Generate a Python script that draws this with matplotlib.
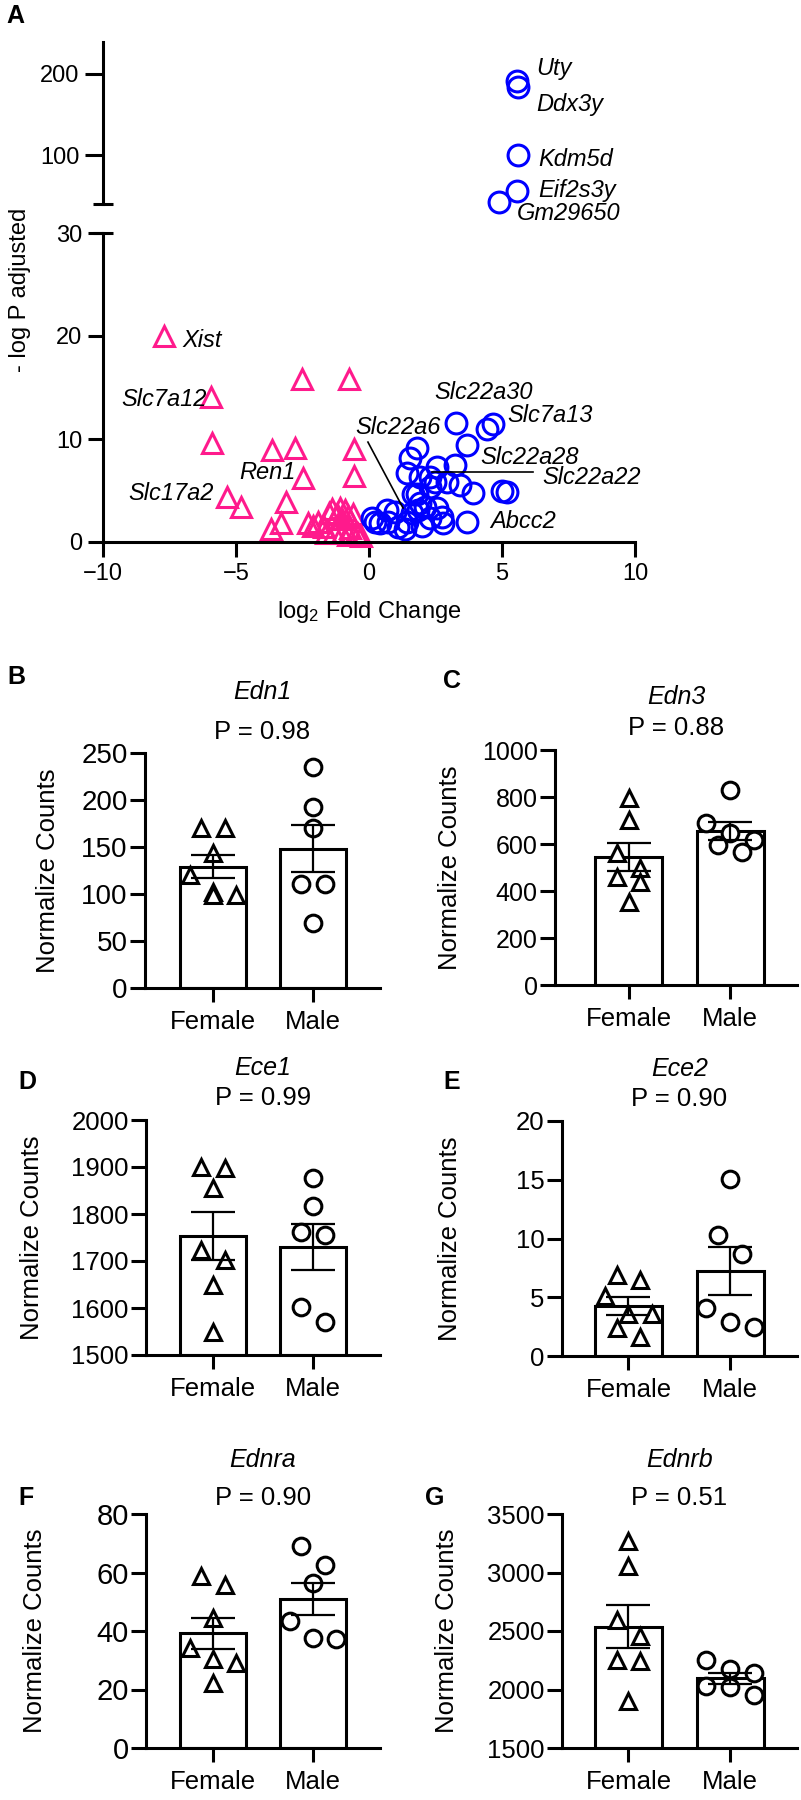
import numpy as np
import matplotlib
matplotlib.use('Agg')
import matplotlib.pyplot as plt

plt.rcParams['font.family'] = 'Liberation Sans'
plt.rcParams['mathtext.fontset'] = 'custom'
plt.rcParams['mathtext.rm'] = 'Liberation Sans'
plt.rcParams['mathtext.it'] = 'Liberation Sans:italic'

PINK = '#FF1A8C'
BLUE = '#0000FF'

# ---- volcano data (log2 FC, -log P adjusted) ----
down_fc = [-7.7, -5.94, -5.9, -2.53, -0.75, -3.65, -2.8, -0.56, -2.48, -0.56,
           -5.35, -4.8, -3.13, -3.3, -3.7,
           -2.3, -2.1, -1.9, -1.7, -1.5, -1.4, -1.2, -1.1, -1.0, -0.9,
           -0.8, -0.7, -0.6, -0.5, -0.4, -1.3, -1.6, -1.0, -0.8, -0.3]
down_p = [20.0, 14.1, 9.6, 15.8, 15.8, 8.9, 9.1, 9.0, 6.2, 6.4,
          4.4, 3.4, 3.9, 1.8, 1.3,
          1.8, 1.6, 1.9, 1.5, 2.8, 3.2, 2.7, 3.3, 2.2, 3.1,
          2.5, 1.4, 2.7, 1.0, 0.8, 1.0, 0.9, 0.9, 0.7, 0.6]

up_fc = [3.27, 4.44, 4.67, 3.68, 1.8, 1.54, 1.43, 1.92, 2.56, 3.23,
         2.48, 2.93, 3.42, 3.91, 5.0, 5.19, 1.8, 2.3, 3.68, 2.74,
         2.78, 2.3, 1.92, 1.43, 1.35, 0.98, 0.68, 0.71, 0.23, 0.4,
         1.62, 1.84, 2.1, 2.56, 1.65, 2.3, 0.1, 1.1, 2.0]
up_p = [11.6, 11.0, 11.5, 9.4, 9.1, 8.2, 6.7, 6.3, 7.3, 7.5,
        5.8, 5.8, 5.5, 4.8, 5.0, 4.9, 4.7, 5.3, 1.9, 2.4,
        1.8, 2.3, 3.8, 1.9, 1.3, 2.9, 3.1, 1.9, 1.9, 1.8,
        2.8, 3.1, 3.4, 3.3, 4.7, 6.3, 2.3, 1.5, 1.6]

top_fc = [5.56, 5.6, 5.6, 5.56, 4.89]
top_p = [191, 184, 100, 56, 43]

# ---- normalized counts ----
genes = ['Edn1', 'Edn3', 'Ece1', 'Ece2', 'Ednra', 'Ednrb']
pvals = ['0.98', '0.88', '0.99', '0.90', '0.90', '0.51']
female = [
    [170, 170, 144, 120, 102, 99, 99],
    [796, 702, 562, 498, 461, 440, 354],
    [1900, 1898, 1855, 1723, 1702, 1649, 1550],
    [6.9, 6.46, 5.1, 3.6, 3.55, 2.35, 1.65],
    [58.7, 55.8, 44.4, 34.2, 30.4, 29.1, 22.2],
    [3266, 3052, 2597, 2454, 2255, 2240, 1898],
]
male = [
    [235, 193, 170, 111, 111, 69],
    [830, 688, 645, 617, 596, 567],
    [1876, 1816, 1762, 1755, 1603, 1571],
    [15.1, 10.3, 8.7, 4.05, 2.9, 2.5],
    [68.9, 62.4, 56.4, 43.3, 37.6, 37.3],
    [2255, 2175, 2141, 2027, 2021, 1955],
]
yticks_list = [
    [0, 50, 100, 150, 200, 250],
    [0, 200, 400, 600, 800, 1000],
    [1500, 1600, 1700, 1800, 1900, 2000],
    [0, 5, 10, 15, 20],
    [0, 20, 40, 60, 80],
    [1500, 2000, 2500, 3000, 3500],
]
groups = ['Female', 'Male']

W, H = 801, 1800
fig = plt.figure(figsize=(W / 100, H / 100), dpi=100)


def rect(l, t, r, b):
    return [l / W, 1 - b / H, (r - l) / W, (b - t) / H]


def style_axis(ax, lw=2.2):
    for s in ['top', 'right']:
        ax.spines[s].set_visible(False)
    for s in ['left', 'bottom']:
        ax.spines[s].set_linewidth(lw)


# ================= volcano =================
axv = fig.add_axes(rect(103, 233, 635, 542))
axu = fig.add_axes(rect(103, 42, 635, 204))

axv.plot(down_fc, down_p, ls='none', marker='^', ms=14, mfc='none',
         mec=PINK, mew=2.2, clip_on=False)
axv.plot(up_fc, up_p, ls='none', marker='o', ms=15, mfc='none',
         mec=BLUE, mew=2.2, clip_on=False)
axu.plot(top_fc, top_p, ls='none', marker='o', ms=15, mfc='none',
         mec=BLUE, mew=2.2, clip_on=False)
for ax in (axv, axu):
    ax.set_xlim(-10, 10)
    style_axis(ax)

axv.set_ylim(0, 30)
axv.set_yticks([0, 10, 20, 30])
axv.set_xticks([-10, -5, 0, 5, 10])
axv.tick_params(axis='both', direction='out', length=11, width=2.2,
                labelsize=17, pad=4)
axu.set_ylim(40, 239)
axu.set_yticks([100, 200])
axu.spines['bottom'].set_visible(False)
axu.set_xticks([])
axu.tick_params(axis='y', direction='out', length=13, width=2.2,
                labelsize=17, pad=4)
axv.set_xlabel('log$_{\\mathregular{2}}$ Fold Change', fontsize=17, labelpad=10)

# axis break marks
axv.plot([-0.019, 0.019], [1, 1], transform=axv.transAxes, color='k',
         lw=2.2, clip_on=False, solid_capstyle='butt')
axu.plot([-0.019, 0.019], [0, 0], transform=axu.transAxes, color='k',
         lw=2.2, clip_on=False, solid_capstyle='butt')

fig.text(20 / W, 1 - 290 / H, '- log P adjusted', rotation=90,
         ha='center', va='center', fontsize=17)

low_labels = [('Xist', -7.03, 19.6, 'left'), ('Slc7a12', -6.1, 13.8, 'right'),
              ('Slc17a2', -5.85, 4.7, 'right'), ('Ren1', -3.8, 6.7, 'center'),
              ('Slc22a6', 1.1, 11.1, 'center'), ('Slc22a30', 4.29, 14.5, 'center'),
              ('Slc7a13', 5.19, 12.3, 'left'), ('Slc22a28', 6.05, 8.2, 'center'),
              ('Slc22a22', 6.5, 6.3, 'left'), ('Abcc2', 4.55, 2.0, 'left')]
for txt, x, y, ha in low_labels:
    axv.text(x, y, txt, style='italic', fontsize=17, ha=ha, va='center')
axv.plot([-0.04, 1.28], [9.7, 3.3], color='k', lw=1.2)
axv.plot([2.37, 6.17], [6.8, 6.8], color='k', lw=1.2)

up_labels = [('Uty', 6.3, 207), ('Ddx3y', 6.3, 162), ('Kdm5d', 6.35, 95),
             ('Eif2s3y', 6.35, 57), ('Gm29650', 5.55, 28)]
for txt, x, y in up_labels:
    axu.text(x, y, txt, style='italic', fontsize=17, ha='left', va='center')

# ================= bar panels =================
panel_rects = [(145, 753, 380, 988), (555, 750, 797, 985),
               (146, 1120, 380, 1355), (562, 1121, 797, 1356),
               (146, 1514, 380, 1748), (562, 1514, 797, 1748)]
panel_xlim = [(-0.68, 1.67), (-0.725, 1.66), (-0.67, 1.67),
              (-0.655, 1.66), (-0.67, 1.67), (-0.655, 1.66)]
tick_fs = [20, 18, 18.5, 18.5, 21, 18.5]
ylabel_x = [48, 450, 32, 450, 35, 447]
title_y = [(1.26, 1.09), (1.225, 1.094), (1.22, 1.094), (1.22, 1.094),
           (1.23, 1.068), (1.23, 1.068)]


def swarm_offsets(vals, px_per_unit, step=0.117, bin_px=20):
    # group points whose values are close, spread each group horizontally
    order = np.argsort(vals)[::-1]
    offs = np.zeros(len(vals))
    bins = []
    cur = [order[0]]
    for i in order[1:]:
        if (vals[cur[0]] - vals[i]) * px_per_unit < bin_px and len(cur) < 3:
            cur.append(i)
        else:
            bins.append(cur)
            cur = [i]
    bins.append(cur)
    for g in bins:
        n = len(g)
        for k, i in enumerate(g):
            offs[i] = (k - (n - 1) / 2) * 2 * step
    return offs


for k in range(6):
    l, t, r, b = panel_rects[k]
    ax = fig.add_axes(rect(l, t, r, b))
    yt = yticks_list[k]
    ax.set_ylim(yt[0], yt[-1])
    ax.set_xlim(*panel_xlim[k])
    px_unit = (b - t) / (yt[-1] - yt[0])

    data = [np.array(female[k], float), np.array(male[k], float)]
    means = [d.mean() for d in data]
    sems = [d.std(ddof=1) / np.sqrt(len(d)) for d in data]

    ax.bar([0, 1], [m - yt[0] for m in means], bottom=yt[0], width=0.66,
           color='white', edgecolor='black', linewidth=2.2, zorder=1)
    for j, (d, mk) in enumerate(zip(data, ['^', 'o'])):
        offs = swarm_offsets(d, px_unit)
        ax.plot(j + offs, d, ls='none', marker=mk, ms=12, mfc='white',
                mec='black', mew=2.2, zorder=3, clip_on=False)
    ax.errorbar([0, 1], means, yerr=sems, fmt='none', ecolor='black',
                elinewidth=1.6, capsize=16, capthick=1.6, zorder=4)

    style_axis(ax)
    ax.set_yticks(yt)
    ax.set_xticks([0, 1])
    ax.set_xticklabels(groups)
    ax.tick_params(axis='y', direction='out', length=11, width=2.2,
                   labelsize=tick_fs[k], pad=1.5)
    ax.tick_params(axis='x', direction='out', length=10, width=2.2,
                   labelsize=18.5, pad=6)

    gy, py = title_y[k]
    ax.text(0.5, gy, genes[k], transform=ax.transAxes, style='italic',
            fontsize=18, ha='center', va='center')
    ax.text(0.5, py, 'P = ' + pvals[k], transform=ax.transAxes,
            fontsize=18.5, ha='center', va='center')
    fig.text(ylabel_x[k] / W, 1 - (t + b) / 2 / H, 'Normalize Counts',
             rotation=90, ha='center', va='center', fontsize=18.5)

letters = [('A', 15, 16), ('B', 16, 677), ('C', 452, 681), ('D', 27, 1082),
           ('E', 452, 1082), ('F', 26, 1498), ('G', 435, 1498)]
for txt, x, y in letters:
    fig.text(x / W, 1 - y / H, txt, fontsize=18, fontweight='bold',
             ha='center', va='center')

fig.savefig('out.png', dpi=100)
